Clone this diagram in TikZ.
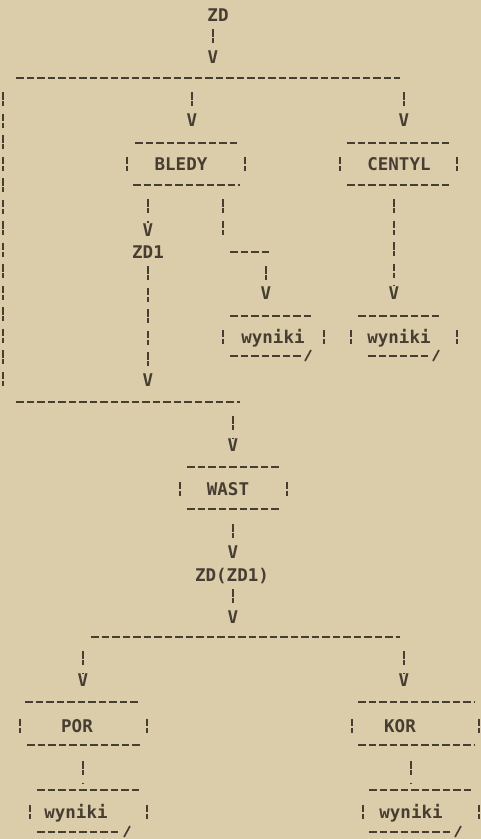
\documentclass[tikz,border=0pt]{standalone}
\usepackage{fontspec}
\setmonofont{DejaVu Sans Mono}
\definecolor{paper}{RGB}{219,205,170}
\definecolor{ink}{RGB}{70,62,50}
\tikzset{
 txt/.style={font=\ttfamily\bfseries\fontsize{17.5}{20}\selectfont, text=ink, inner sep=0pt, text height=13pt, text depth=0pt},
 boxlabel/.style={txt, minimum height=55pt},
 arr/.style={txt},
 hd/.style={draw=ink, line width=1.9pt, dash pattern=on 7.5pt off 3pt},
 vb/.style={draw=ink, line width=1.9pt, dash pattern=on 7.5pt off 1.5pt on 5pt off 7.5pt, dash phase=14pt},
 vside/.style={draw=ink, line width=1.9pt, dash pattern=on 7.5pt off 1.5pt on 5pt off 7.5pt},
 slash/.style={draw=ink, line width=1.7pt},
}
\newcommand\asside[2]{\draw[vside] (#1,#2-7.5) -- (#1,#2+7.5);}
\begin{document}
\begin{tikzpicture}[x=1pt,y=-1pt]
\fill[paper] (0,0) rectangle (481,839);
\useasboundingbox (0,0) rectangle (481,839);
% top
\node[txt] (ZD) at (218,15) {ZD};
\node[arr] (a0) at (213,57) {V};
\draw[vb] (ZD.south -| a0) -- (a0);
\draw[hd] (16,78) -- (400,78);
\coordinate (s0) at (3,84.5);
\coordinate (s1) at (192,84.5);
\coordinate (s2) at (404,84.5);
\node[arr] (a1) at (192,120) {V};
\node[arr] (a2) at (404,120) {V};
\draw[vb] (s1) -- (a1);
\draw[vb] (s2) -- (a2);
\coordinate (m0) at (3,391);
\draw[vb] (s0) -- (m0);
% BLEDY
\node[boxlabel] (BLEDY) at (181,164) {BLEDY};
\draw[hd] (135,143) -- (240,143);
\draw[hd] (133,185) -- (240,185);
\asside{127}{164}\asside{245}{164}
% CENTYL
\node[boxlabel] (CENTYL) at (399,164) {CENTYL};
\draw[hd] (347,143) -- (452,143);
\draw[hd] (347,185) -- (452,185);
\asside{340}{164}\asside{457}{164}
% ZD1 branch
\node[arr] (a3) at (148,230) {V};
\node[txt] (ZD1) at (148,252) {ZD1};
\draw[vb] (BLEDY.south -| a3) -- (a3);
\coordinate (e1) at (223,240);
\draw[vb] (BLEDY.south -| e1) -- (e1);
\draw[hd] (230,252) -- (270,252);
\coordinate (e2) at (266,258.5);
\node[arr] (a4) at (266,293) {V};
\draw[vb] (e2) -- (a4);
\node[arr] (a5) at (394,293) {V};
\draw[vb] (CENTYL.south -| a5) -- (a5);
% wyniki 1
\node[boxlabel] (W1) at (273,337) {wyniki};
\draw[hd] (230,316) -- (313,316);
\draw[hd] (230,356) -- (303,356);
\draw[slash] (305,361) -- (311,350);
\asside{223}{337}\asside{324}{337}
% wyniki 2
\node[boxlabel] (W2) at (399,337) {wyniki};
\draw[hd] (358,316) -- (442,316);
\draw[hd] (368,356) -- (431,356);
\draw[slash] (433,361) -- (439,350);
\asside{351}{337}\asside{457}{337}
\node[arr] (a6) at (148,380) {V};
\draw[vb] (ZD1) -- (a6);
% merge
\draw[hd] (16,402) -- (240,402);
\coordinate (m1) at (233,408.5);
\node[arr] (a7) at (233,445) {V};
\draw[vb] (m1) -- (a7);
% WAST
\node[boxlabel] (WAST) at (228,489) {WAST};
\draw[hd] (187,467) -- (280,467);
\draw[hd] (187,509) -- (280,509);
\asside{180}{489}\asside{287}{489}
\node[arr] (a8) at (233,552) {V};
\draw[vb] (WAST.south -| a8) -- (a8);
\node[txt] (ZDZD1) at (232,575) {ZD(ZD1)};
\node[arr] (a9) at (233,617) {V};
\draw[vb] (ZDZD1.south -| a9) -- (a9);
% split 2
\draw[hd] (91,637) -- (400,637);
\coordinate (t1) at (83,643.5);
\coordinate (t2) at (404,643.5);
\node[arr] (a10) at (83,680) {V};
\node[arr] (a11) at (404,680) {V};
\draw[vb] (t1) -- (a10);
\draw[vb] (t2) -- (a11);
% POR
\node[boxlabel] (POR) at (77,726) {POR};
\draw[hd] (25,702) -- (140,702);
\draw[hd] (27,745) -- (140,745);
\asside{20}{726}\asside{147}{726}
% KOR
\node[boxlabel] (KOR) at (400,726) {KOR};
\draw[hd] (358,702) -- (474,702);
\draw[hd] (358,745) -- (474,745);
\asside{352}{726}\asside{479}{726}
% wyniki 3
\node[boxlabel] (W3) at (76,812) {wyniki};
\draw[hd] (37,790) -- (140,790);
\draw[hd] (37,832) -- (120,832);
\draw[slash] (124,837) -- (130,826);
\asside{30}{812}\asside{147}{812}
% wyniki 4
\node[boxlabel] (W4) at (411,812) {wyniki};
\draw[hd] (369,790) -- (474,790);
\draw[hd] (369,832) -- (452,832);
\draw[slash] (455,837) -- (461,826);
\asside{363}{812}\asside{479}{812}
\draw[vb] (POR.south -| a10) -- (W3.north -| a10);
\draw[vb] (W4.north |- KOR.south) -- (W4.north);
\end{tikzpicture}
\end{document}
